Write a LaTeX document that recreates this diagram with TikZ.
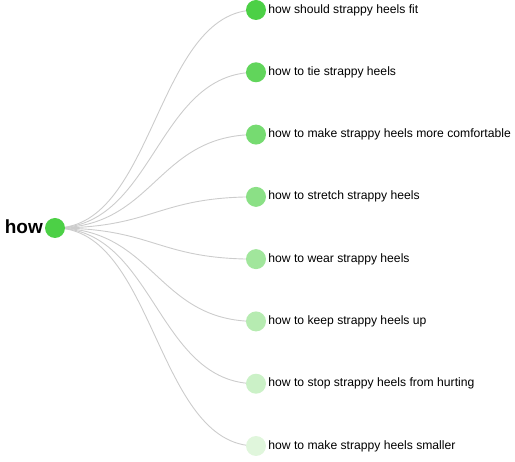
\documentclass[tikz,border=0pt]{standalone}
\usepackage{fontspec}
\setmainfont{Liberation Sans}
\usetikzlibrary{positioning}
\definecolor{RootGreen}{RGB}{76,208,70}
\definecolor{PaleGreen}{RGB}{224,246,220}
\definecolor{LinkGray}{RGB}{204,204,204}

\begin{document}
\begin{tikzpicture}[
  x=1pt,y=-1pt,
  dot/.style={circle,inner sep=0pt,minimum size=20pt},
  leaftext/.style={inner sep=0pt,anchor=west,font=\fontsize{12.15}{14}\selectfont},
  link/.style={draw=LinkGray,line width=0.9pt}
]
\useasboundingbox (0,0) rectangle (515,462);
\coordinate (root) at (55,228);
\node[inner sep=0pt,anchor=east,font=\fontsize{19}{22}\selectfont\bfseries] (roottext) at (43,227) {how};
% leaves, top to bottom
\foreach \lab [count=\i from 0] in {how should strappy heels fit,how to tie strappy heels,how to make strappy heels more comfortable,how to stretch strappy heels,how to wear strappy heels,how to keep strappy heels up,how to stop strappy heels from hurting,how to make strappy heels smaller}{
  \pgfmathsetmacro{\shade}{100-100*\i/7}
  \pgfmathsetmacro{\ypos}{10+62.2857*\i}
  \colorlet{leafcol}{RootGreen!\shade!PaleGreen}
  \coordinate (leaf\i) at (256,\ypos);
  \draw[link] (root) .. controls +(100,0) and +(-100,0) .. (leaf\i);
  \node[dot,fill=leafcol] (dot\i) at (leaf\i) {};
  \node[leaftext,right=2pt of dot\i] (text\i) {\lab};
}
\node[dot,fill=RootGreen] (rootdot) at (root) {};
\end{tikzpicture}
\end{document}
